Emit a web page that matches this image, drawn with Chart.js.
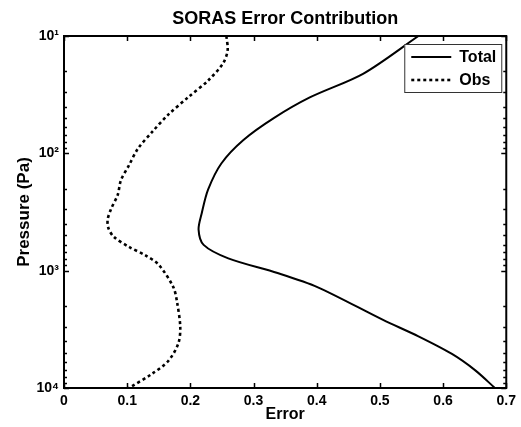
<!DOCTYPE html>
<html><head><meta charset="utf-8">
<script src="https://cdn.jsdelivr.net/npm/chart.js@4/dist/chart.umd.min.js"></script>
<style>html,body{margin:0;padding:0;background:#fff;overflow:hidden}canvas{display:block}</style>
</head><body>
<canvas id="c" width="521" height="427"></canvas>
<script>
// ---- data ----
const titleText = 'SORAS Error Contribution';
const xAxisLabel = 'Error';
const yAxisLabel = 'Pressure (Pa)';
const seriesNames = ['Total', 'Obs'];

const totalPressure = [10, 20.9, 33.4, 50.1, 77, 122, 204, 324, 447, 603, 785, 1047, 1380, 2630, 3631, 5129, 7079, 10000];
const totalError    = [0.561, 0.474, 0.389, 0.332, 0.284, 0.249, 0.228, 0.218, 0.213, 0.221, 0.260, 0.338, 0.401, 0.505, 0.561, 0.614, 0.651, 0.682];

const obsPressure = [10, 13.2, 17.0, 24.0, 33.1, 46.8, 65.3, 91.2, 126, 170, 226, 302, 370, 437, 516, 628, 741, 891, 1380, 1862, 3020, 4169, 5888, 7586, 10000];
const obsError    = [0.257, 0.259, 0.252, 0.228, 0.197, 0.165, 0.140, 0.117, 0.103, 0.090, 0.085, 0.074, 0.069, 0.0705, 0.079, 0.103, 0.129, 0.150, 0.173, 0.179, 0.184, 0.181, 0.165, 0.139, 0.103];

const xTickValues = [0, 0.1, 0.2, 0.3, 0.4, 0.5, 0.6, 0.7];
const xTickLabels = ['0', '0.1', '0.2', '0.3', '0.4', '0.5', '0.6', '0.7'];
const yTickValues = [10, 100, 1000, 10000];
const yTickLabels = ['10\u00B9', '10\u00B2', '10\u00B3', '10\u2074'];

// ---- chart ----
const FONT = "'Liberation Sans', Arial, Helvetica, sans-serif";
Chart.defaults.font.family = FONT;
Chart.defaults.color = '#000';

const toPoints = (xs, ys) => xs.map((x, i) => ({x: x, y: ys[i]}));

const framePlugin = {
  id: 'frameTicksLegend',
  afterDatasetsDraw(chart) {
    const ctx = chart.ctx, ca = chart.chartArea;
    const xs = chart.scales.x, ys = chart.scales.y;
    ctx.save();
    ctx.strokeStyle = '#000';
    // ticks
    ctx.lineWidth = 1.5;
    ctx.beginPath();
    xTickValues.forEach(v => {
      const px = Math.round(xs.getPixelForValue(v)) + 0.5;
      ctx.moveTo(px, ca.bottom); ctx.lineTo(px, ca.bottom - 5);
      ctx.moveTo(px, ca.top); ctx.lineTo(px, ca.top + 5);
    });
    for (let d = 10; d <= 10000; d *= 10) {
      for (let m = 1; m <= 9; m++) {
        const v = m * d;
        if (v < 10 || v > 10000) continue;
        const py = Math.round(ys.getPixelForValue(v)) + 0.5;
        const len = m === 1 ? 5 : 3;
        ctx.moveTo(ca.left, py); ctx.lineTo(ca.left + len, py);
        ctx.moveTo(ca.right, py); ctx.lineTo(ca.right - len, py);
      }
    }
    ctx.stroke();
    // frame
    ctx.lineWidth = 2;
    ctx.strokeRect(ca.left, ca.top, ca.right - ca.left, ca.bottom - ca.top);
    // legend
    const bx = ca.right - 102, by = ca.top + 8, bw = 97, bh = 48;
    ctx.fillStyle = '#fff';
    ctx.fillRect(bx, by, bw, bh);
    ctx.lineWidth = 1;
    ctx.strokeStyle = '#333';
    ctx.strokeRect(bx + 0.5, by + 0.5, bw, bh);
    chart.data.datasets.forEach((ds, i) => {
      const y = by + 13 + i * 23;
      ctx.beginPath();
      ctx.setLineDash(ds.borderDash || []);
      ctx.lineWidth = ds.borderWidth;
      ctx.strokeStyle = ds.borderColor;
      ctx.moveTo(bx + 7, y); ctx.lineTo(bx + 47, y);
      ctx.stroke();
      ctx.setLineDash([]);
      ctx.fillStyle = '#000';
      ctx.font = 'bold 16px ' + FONT;
      ctx.textBaseline = 'middle';
      ctx.textAlign = 'left';
      ctx.fillText(ds.label, bx + 55, y + 1);
    });
    ctx.restore();
  }
};

new Chart(document.getElementById('c'), {
  type: 'scatter',
  data: {
    datasets: [
      {label: seriesNames[0], data: toPoints(totalError, totalPressure), showLine: true,
       borderColor: '#000', borderWidth: 2, pointRadius: 0, tension: 0.3, fill: false},
      {label: seriesNames[1], data: toPoints(obsError, obsPressure), showLine: true,
       borderColor: '#000', borderWidth: 2.6, borderDash: [3, 3], pointRadius: 0, tension: 0.3, fill: false}
    ]
  },
  options: {
    responsive: false,
    animation: false,
    devicePixelRatio: 1,
    layout: {padding: {left: 0, right: 10, top: 0, bottom: 0}},
    plugins: {
      legend: {display: false},
      tooltip: {enabled: false},
      title: {display: true, text: titleText, fullSize: false,
              font: {size: 18, weight: 'bold'}, color: '#000',
              padding: {top: 8, bottom: 6.4}}
    },
    scales: {
      x: {
        type: 'linear', min: 0, max: 0.7,
        grid: {display: false, drawTicks: false},
        border: {display: false},
        afterBuildTicks: s => { s.ticks = xTickValues.map(v => ({value: v})); },
        ticks: {padding: 5, maxRotation: 0, autoSkip: false, color: '#000',
                font: {size: 14, weight: 'bold'},
                callback: (v, i) => xTickLabels[i]},
        title: {display: true, text: xAxisLabel, color: '#000',
                font: {size: 16, weight: 'bold'}, padding: {top: 0, bottom: 3}},
        afterFit: s => { s.height = 39; }
      },
      y: {
        type: 'logarithmic', min: 10, max: 10000, reverse: true,
        grid: {display: false, drawTicks: false},
        border: {display: false},
        afterBuildTicks: s => { s.ticks = yTickValues.map(v => ({value: v})); },
        ticks: {padding: 5, autoSkip: false, color: '#000',
                font: {size: 14, weight: 'bold'},
                callback: (v, i) => yTickLabels[i]},
        title: {display: true, text: yAxisLabel, color: '#000',
                font: {size: 17, weight: 'bold'}, padding: {top: 14, bottom: 0}},
        afterFit: s => { s.width = 64; }
      }
    }
  },
  plugins: [framePlugin]
});
</script>
</body></html>
